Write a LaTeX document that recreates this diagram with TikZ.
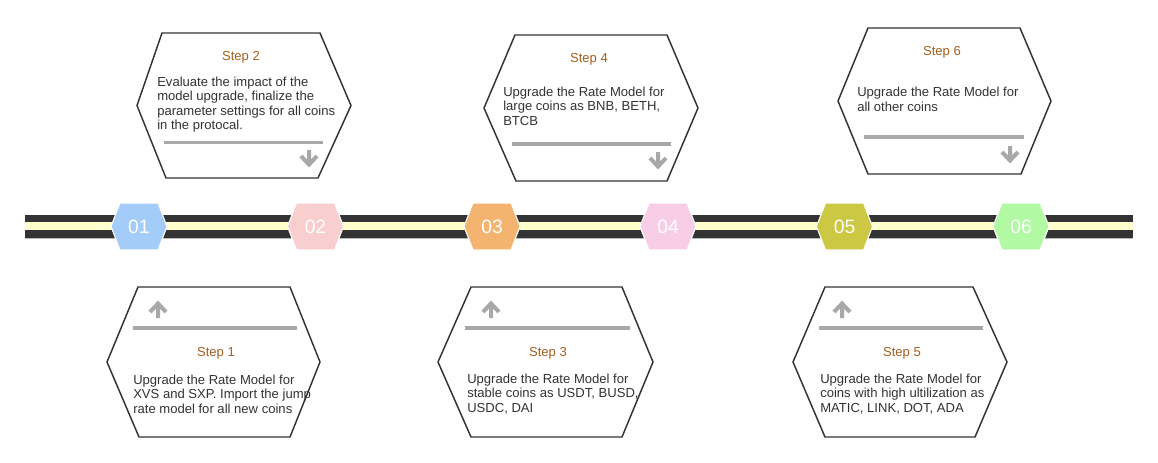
\documentclass[tikz,border=0pt]{standalone}
\usepackage{fontspec}
\setmainfont{Liberation Sans}
\usepackage{tikz}
\usetikzlibrary{calc,positioning}
\definecolor{barblack}{RGB}{51,51,51}
\definecolor{barcream}{RGB}{255,255,206}
\definecolor{hexline}{RGB}{51,51,51}
\definecolor{stepbrown}{RGB}{165,95,30}
\definecolor{bodygray}{RGB}{51,51,51}
\definecolor{divgray}{RGB}{168,168,168}
\definecolor{mkblue}{RGB}{164,204,249}
\definecolor{mkrose}{RGB}{248,206,206}
\definecolor{mkorange}{RGB}{244,180,112}
\definecolor{mkpink}{RGB}{248,205,230}
\definecolor{mkolive}{RGB}{205,200,67}
\definecolor{mkgreen}{RGB}{177,249,162}
\tikzset{
    hexbox/.style={draw=hexline, line width=1.1pt, fill=white},
    steptitle/.style={text=stepbrown, font=\fontsize{9.8}{11}\selectfont},
    stepbody/.style={anchor=west, align=left, inner sep=0pt, text=bodygray, font=\fontsize{9.8}{10.9}\selectfont},
    divider/.style={draw=divgray, line width=2.3pt},
    pointer/.style={draw=divgray, line width=3pt, line cap=butt},
    marker/.style={draw=white, line width=0.8pt},
    mnum/.style={text=white, font=\fontsize{14.5}{16}\selectfont},
}

\begin{document}
\begin{tikzpicture}[x=0.75pt,y=0.75pt,yscale=-1,xscale=1]
\path[use as bounding box] (0,0) rectangle (1158,462);
%Timeline bar
\fill[barblack] (25,215) rectangle (1133,237.7);
\fill[barcream] (25,222) rectangle (1133,230.2);
\draw[gray!55, line width=0.4pt] (25,238) -- (1133,238);
%Hexagon markers
\draw [marker, fill=mkblue] (111,226.5) -- (120,203) -- (158,203) -- (167,226.5) -- (158,250) -- (120,250) -- cycle ;
\draw [marker, fill=mkrose] (287.5,226.5) -- (296.5,203) -- (334.5,203) -- (343.5,226.5) -- (334.5,250) -- (296.5,250) -- cycle ;
\draw [marker, fill=mkorange] (464,226.5) -- (473,203) -- (511,203) -- (520,226.5) -- (511,250) -- (473,250) -- cycle ;
\draw [marker, fill=mkpink] (640,226.5) -- (649,203) -- (687,203) -- (696,226.5) -- (687,250) -- (649,250) -- cycle ;
\draw [marker, fill=mkolive] (816.5,226.5) -- (825.5,203) -- (863.5,203) -- (872.5,226.5) -- (863.5,250) -- (825.5,250) -- cycle ;
\draw [marker, fill=mkgreen] (993,226.5) -- (1002,203) -- (1040,203) -- (1049,226.5) -- (1040,250) -- (1002,250) -- cycle ;
\draw (139,227) node [mnum] (num1) {01};
\draw (315.5,227) node [mnum] (num2) {02};
\draw (492,227) node [mnum] (num3) {03};
\draw (668,227) node [mnum] (num4) {04};
\draw (844.5,227) node [mnum] (num5) {05};
\draw (1021,227) node [mnum] (num6) {06};
%Hexagon step boxes, top row
\draw [hexbox] (137,105.5) -- (162,33) -- (320,33) -- (351,105.5) -- (318,178) -- (166,178) -- cycle ;
\draw [hexbox] (484,108) -- (515,35) -- (667,35) -- (698,108) -- (667,181) -- (516,181) -- cycle ;
\draw [hexbox] (838,101) -- (868,28) -- (1020,28) -- (1051,101) -- (1021,174) -- (868,174) -- cycle ;
%Hexagon step boxes, bottom row
\draw [hexbox] (107,362) -- (138,287) -- (290,287) -- (320,362) -- (290,437) -- (139,437) -- cycle ;
\draw [hexbox] (438,362) -- (471,287) -- (622,287) -- (653,362) -- (622,437) -- (471,437) -- cycle ;
\draw [hexbox] (793,362) -- (825,287) -- (973,287) -- (1007,362) -- (975,437) -- (825,437) -- cycle ;
%Dividers
\draw [divider] (164,142.3) -- (323,142.3) ;
\draw [divider] (512,144) -- (671,144) ;
\draw [divider] (864,137) -- (1024,137) ;
\draw [divider] (133,328) -- (297,328) ;
\draw [divider] (465,328) -- (630,328) ;
\draw [divider] (819,328) -- (983,328) ;
%Down pointers
\draw [pointer] (309,150) -- (309,164) (301,156) -- (309,164.5) -- (317,156) ;
\draw [pointer] (658,152) -- (658,166) (650,158) -- (658,166.5) -- (666,158) ;
\draw [pointer] (1010,146) -- (1010,160) (1002,152) -- (1010,160.5) -- (1018,152) ;
%Up pointers
\draw [pointer] (158,318) -- (158,304) (150,312) -- (158,303.5) -- (166,312) ;
\draw [pointer] (491,318) -- (491,304) (483,312) -- (491,303.5) -- (499,312) ;
\draw [pointer] (842,318) -- (842,304) (834,312) -- (842,303.5) -- (850,312) ;
%Titles
\draw (241,57) node [steptitle] (title2) {Step 2};
\draw (589,59) node [steptitle] (title4) {Step 4};
\draw (942,52) node [steptitle] (title6) {Step 6};
\draw (216,353) node [steptitle] (title1) {Step 1};
\draw (548,353) node [steptitle] (title3) {Step 3};
\draw (902,353) node [steptitle] (title5) {Step 5};
%Bodies
\draw (157,104.5) node [stepbody] (body2) {Evaluate the impact of the\\model upgrade, finalize the\\parameter settings for all coins\\in the protocal.};
\draw (503,106) node [stepbody] (body4) {Upgrade the Rate Model for\\large coins as BNB, BETH,\\BTCB};
\draw (857,99.5) node [stepbody] (body6) {Upgrade the Rate Model for\\all other coins};
\draw (133,394) node [stepbody] (body1) {Upgrade the Rate Model for\\XVS and SXP. Import the jump\\rate model for all new coins};
\draw (467,394) node [stepbody] (body3) {Upgrade the Rate Model for\\stable coins as USDT, BUSD,\\USDC, DAI};
\draw (820,394) node [stepbody] (body5) {Upgrade the Rate Model for\\coins with high ultilization as\\MATIC, LINK, DOT, ADA};
\end{tikzpicture}
\end{document}
